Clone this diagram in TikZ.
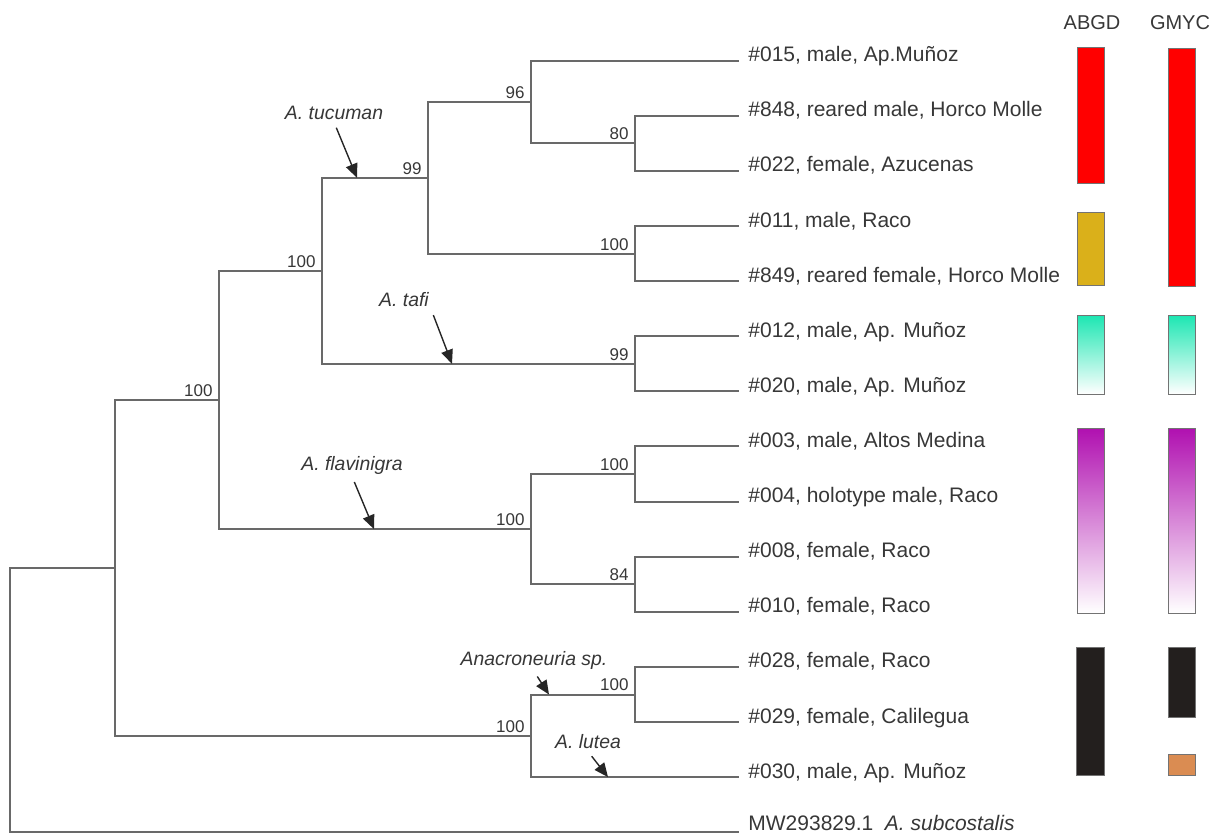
\documentclass[tikz,border=0pt]{standalone}
\usepackage{fontspec}
\setmainfont{Liberation Sans}
\usetikzlibrary{arrows.meta,positioning}
\definecolor{treegray}{RGB}{105,105,105}
\definecolor{txtgray}{RGB}{55,55,55}
\definecolor{abred}{RGB}{255,0,0}
\definecolor{abgold}{RGB}{218,176,26}
\definecolor{abteal}{RGB}{28,230,178}
\definecolor{abmag}{RGB}{176,16,176}
\definecolor{abblack}{RGB}{35,31,30}
\definecolor{aborange}{RGB}{218,140,82}
\begin{document}
\begin{tikzpicture}[x=0.5pt,y=-0.5pt,>={Triangle[length=7pt,width=6pt]},
 branch/.style={draw=treegray,line width=1pt},
 leaf/.style={anchor=base west,inner sep=0pt,text=txtgray,font=\fontsize{10.5}{12}\selectfont},
 boot/.style={anchor=south east,inner xsep=3pt,inner ysep=1.5pt,text=txtgray,font=\fontsize{8.5}{10}\selectfont},
 taxon/.style={text=txtgray,font=\fontsize{9.7}{11}\selectfont\itshape,inner sep=1pt},
 head/.style={text=txtgray,font=\fontsize{10}{12}\selectfont,inner sep=0pt},
 pointer/.style={->,draw=black!85,line width=0.7pt,shorten <=3pt},
 bar/.style={draw=black!55,line width=0.4pt}]
\useasboundingbox (0,0) rectangle (1213,834);
\foreach \i/\lab in {0/{\#015, male, Ap.Muñoz},1/{\#848, reared male, Horco Molle},2/{\#022, female, Azucenas},
 3/{\#011, male, Raco},4/{\#849, reared female, Horco Molle},5/{\#012, male, Ap. Muñoz},6/{\#020, male, Ap. Muñoz},
 7/{\#003, male, Altos Medina},8/{\#004, holotype male, Raco},9/{\#008, female, Raco},10/{\#010, female, Raco},
 11/{\#028, female, Raco},12/{\#029, female, Calilegua},13/{\#030, male, Ap. Muñoz}}
 {\node[leaf] (t\i) at (748,{61.7+55.11*\i}) {\lab};
  \coordinate (e\i) at ([xshift=-4.5pt,yshift=0.5pt]t\i.base west);}
\node[leaf] (t14) at (748,830) {MW293829.1\ \ \textit{A. subcostalis}};
\coordinate (e14) at (739,832.2);
\foreach \n/\x/\y in {n80/635/143.4,n96/531/102.0,n100a/635/253.6,n99a/428/177.8,n99b/635/363.8,n100b/322/270.8,
 n100c/635/474.0,n84/635/584.2,n100d/531/529.1,n100e/219/400.0,n100f/635/694.5,n100g/531/735.8,n116/115/567.9,root/10/700.2}
 \coordinate (\n) at (\x,\y);
\foreach \p/\c in {root/n116,root/e14,n116/n100e,n116/n100g,n100e/n100b,n100e/n100d,n100b/n99a,n100b/n99b,
 n99a/n96,n99a/n100a,n96/e0,n96/n80,n80/e1,n80/e2,n100a/e3,n100a/e4,n99b/e5,n99b/e6,n100d/n100c,n100d/n84,
 n100c/e7,n100c/e8,n84/e9,n84/e10,n100g/n100f,n100g/e13,n100f/e11,n100f/e12}
 \draw[branch] (\p) |- (\c);
\foreach \n/\b in {n96/96,n80/80,n100a/100,n99a/99,n99b/99,n100b/100,n100c/100,n84/84,n100d/100,n100e/100,n100f/100,n100g/100}
 \node[boot] (b\n) at (\n) {\b};
\node[taxon] (tuc) at (334,113) {A. tucuman};
\node[taxon] (taf) at (404,300) {A. tafi};
\node[taxon] (fla) at (352,465) {A. flavinigra};
\node[taxon] (ana) at (534,660) {Anacroneuria sp.};
\node[taxon] (lut) at (588,742) {A. lutea};
\coordinate (ptuc) at (357,177.8);
\coordinate (ptaf) at (452,363.8);
\coordinate (pfla) at (374,529.1);
\coordinate (pana) at (549,694.5);
\coordinate (plut) at (608,777.1);
\draw[pointer] (tuc.south) -- (ptuc);
\draw[pointer] (taf.south east) -- (ptaf);
\draw[pointer] (fla.south) -- (pfla);
\draw[pointer] (ana.south) -- (pana);
\draw[pointer] (lut.south) -- (plut);
\node[head] (abgd) at (1092,22.5) {ABGD};
\node[head] (gmyc) at (1180,22.5) {GMYC};
\draw[bar,fill=abred] (1077,47) rectangle (1104,183);
\draw[bar,fill=abgold] (1077,212) rectangle (1104,285);
\draw[bar,top color=abteal,bottom color=white] (1077,315) rectangle (1104,394);
\draw[bar,top color=abmag,bottom color=white] (1077,428) rectangle (1104,613);
\draw[bar,fill=abblack] (1076,647) rectangle (1104,775);
\draw[bar,fill=abred] (1168,48) rectangle (1195,286);
\draw[bar,top color=abteal,bottom color=white] (1168,315) rectangle (1195,394);
\draw[bar,top color=abmag,bottom color=white] (1168,428) rectangle (1195,613);
\draw[bar,fill=abblack] (1168,647) rectangle (1195,717);
\draw[bar,fill=aborange] (1168,754) rectangle (1195,775);
\end{tikzpicture}
\end{document}
